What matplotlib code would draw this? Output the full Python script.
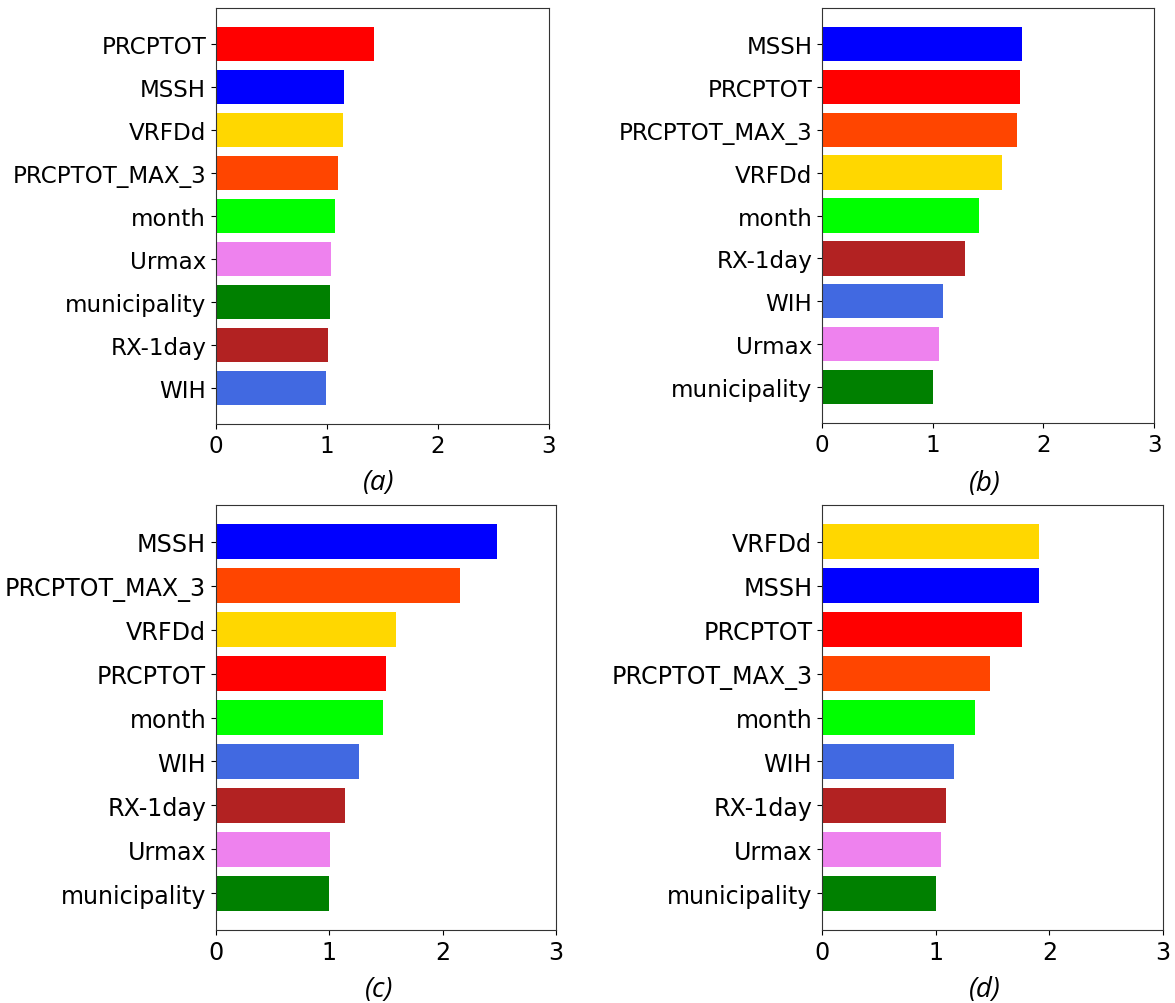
import matplotlib.pyplot as plt

# variable importance per model, listed top to bottom as shown
names_a = ['PRCPTOT', 'MSSH', 'VRFDd', 'PRCPTOT_MAX_3', 'month', 'Urmax',
           'municipality', 'RX-1day', 'WIH']
vals_a = [1.42, 1.15, 1.14, 1.10, 1.07, 1.04, 1.03, 1.01, 0.99]

names_b = ['MSSH', 'PRCPTOT', 'PRCPTOT_MAX_3', 'VRFDd', 'month', 'RX-1day',
           'WIH', 'Urmax', 'municipality']
vals_b = [1.81, 1.785, 1.76, 1.63, 1.42, 1.29, 1.09, 1.06, 1.00]

names_c = ['MSSH', 'PRCPTOT_MAX_3', 'VRFDd', 'PRCPTOT', 'month', 'WIH',
           'RX-1day', 'Urmax', 'municipality']
vals_c = [2.48, 2.15, 1.59, 1.50, 1.47, 1.26, 1.14, 1.01, 1.00]

names_d = ['VRFDd', 'MSSH', 'PRCPTOT', 'PRCPTOT_MAX_3', 'month', 'WIH',
           'RX-1day', 'Urmax', 'municipality']
vals_d = [1.91, 1.91, 1.76, 1.48, 1.35, 1.16, 1.09, 1.05, 1.00]

colors = {
    'PRCPTOT': 'red',
    'MSSH': 'blue',
    'VRFDd': 'gold',
    'PRCPTOT_MAX_3': 'orangered',
    'month': 'lime',
    'Urmax': 'violet',
    'municipality': 'green',
    'RX-1day': 'firebrick',
    'WIH': 'royalblue',
}

fig = plt.figure(figsize=(11.75, 10.04), dpi=100)

# rect, caption, caption position (fig coords), tick font size
panels = [
    (names_a, vals_a, [0.1838, 0.5767, 0.2834, 0.4143], '(a)', (0.3226, 0.519), 16.6),
    (names_b, vals_b, [0.6996, 0.5777, 0.2826, 0.4133], '(b)', (0.8383, 0.518), 16.6),
    (names_c, vals_c, [0.1838, 0.0727, 0.2894, 0.4233], '(c)', (0.3226, 0.014), 17.1),
    (names_d, vals_d, [0.6996, 0.0727, 0.2902, 0.4233], '(d)', (0.8383, 0.014), 17.1),
]

for names, vals, rect, tag, pos, fs in panels:
    ax = fig.add_axes(rect)
    names_r = names[::-1]
    vals_r = vals[::-1]
    ax.barh(names_r, vals_r, color=[colors[n] for n in names_r])
    ax.set_xlim(0, 3)
    ax.set_xticks([0, 1, 2, 3])
    ax.tick_params(labelsize=fs)
    for s in ax.spines.values():
        s.set_color('#333333')
    fig.text(pos[0], pos[1], tag, ha='center', va='center',
             fontsize=20, style='italic', family=['Open Sans', 'DejaVu Sans'])

plt.savefig('out.png', dpi=100)
